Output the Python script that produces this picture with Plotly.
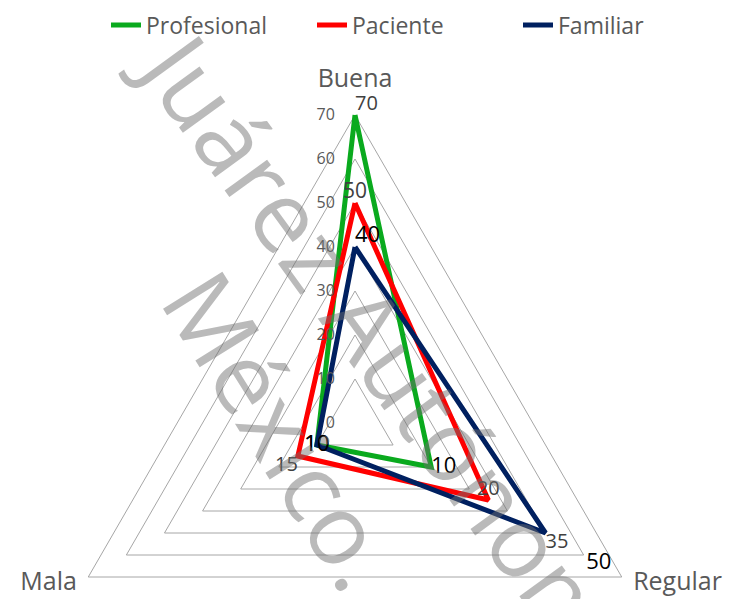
import plotly.graph_objects as go

# ---- data ----
categories = ["Buena", "Regular", "Mala"]
series_names = ["Profesional", "Paciente", "Familiar"]
profesional_values = [70, 20, 10]
paciente_values = [50, 35, 15]
familiar_values = [40, 50, 10]
profesional_labels = ["70", "10", "10"]
paciente_labels = ["50", "20", "15"]
familiar_labels = ["40", "35", "10"]
extra_label_cat = ["Regular"]
extra_label_r = [64]
extra_label_text = ["50"]
radial_ticks = [0, 10, 20, 30, 40, 50, 60, 70]
watermark_lines = ["Juárez Autónoma", "México."]

colors = ["#0AAA1E", "#FF0000", "#002060"]
GRID = "#A6A6A6"
TXT = "#595959"
FONT = "Open Sans"
RMAX = 70          # outer ring
RVIEW = 75         # radial range shown (room for category labels)

W = 735
CX, CY = 355, 423          # centre of the radar in page pixels
PX_PER_UNIT = 4.4
RC = RVIEW * PX_PER_UNIT   # radius of polar circle in px
T_MARGIN = CY - RC
H = int(round(CY + RC))


def px_to_paper(px, py):
    return px / W, (H - py) / (H - T_MARGIN)


fig = go.Figure()

series = [
    (profesional_values, profesional_labels,
     ["top right", "middle right", "middle center"],
     ["#404040", "#000000", "#000000"], [20, 22, 22]),
    (paciente_values, paciente_labels,
     ["top center", "top center", "bottom left"],
     ["#404040", "#404040", "#404040"], [21, 20, 20]),
    (familiar_values, familiar_labels,
     ["top right", "bottom right", "middle center"],
     ["#000000", "#404040", "#000000"], [22, 20, 22]),
]

for name, color, (vals, labels, pos, tcol, tsize) in zip(series_names, colors, series):
    fig.add_trace(go.Scatterpolar(
        r=vals + [vals[0]],
        theta=categories + [categories[0]],
        mode="lines+text",
        name=name,
        text=labels + [""],
        textposition=pos + [pos[0]],
        textfont=dict(family=FONT, size=tsize + [tsize[0]], color=tcol + [tcol[0]]),
        line=dict(color=color, width=5),
        hoverinfo="skip",
        cliponaxis=False,
    ))

fig.add_trace(go.Scatterpolar(
    r=extra_label_r, theta=extra_label_cat, mode="text",
    text=extra_label_text, textposition="middle center",
    textfont=dict(family=FONT, size=22, color="#000000"),
    showlegend=False, hoverinfo="skip", cliponaxis=False,
))

# category labels (placed just outside the outer ring)
cat_label_offsets = [5, 3, 3]
fig.add_trace(go.Scatterpolar(
    r=[RMAX + o for o in cat_label_offsets], theta=categories, mode="text",
    text=categories, textposition=["top center", "middle right", "middle left"],
    textfont=dict(family=FONT, size=25, color=TXT),
    showlegend=False, hoverinfo="skip", cliponaxis=False,
))

fig.update_layout(
    width=W, height=H,
    margin=dict(l=0, r=0, t=T_MARGIN, b=0, pad=0),
    paper_bgcolor="white",
    font=dict(family=FONT, color=TXT),
    showlegend=True,
    legend=dict(orientation="h", x=106 / W, xanchor="left", y=px_to_paper(0, 25)[1],
                yanchor="middle", font=dict(size=23, color=TXT),
                entrywidth=161, entrywidthmode="pixels",
                bgcolor="rgba(0,0,0,0)"),
    polar=dict(
        domain=dict(x=[(CX - RC) / W, (CX + RC) / W], y=[0, 1]),
        bgcolor="white",
        gridshape="linear",
        radialaxis=dict(
            range=[0, RVIEW], tickvals=radial_ticks, angle=90, tickangle=90,
            side="counterclockwise", showline=False,
            gridcolor=GRID, gridwidth=1.3,
            ticks="outside", ticklen=14, tickcolor="rgba(0,0,0,0)",
            tickfont=dict(size=16, color=TXT),
        ),
        angularaxis=dict(
            type="category", categoryarray=categories,
            direction="clockwise", rotation=90,
            showgrid=False, showline=False,
            ticks="", showticklabels=False,
        ),
    ),
)

# watermark
wm_centers = [(397, 363), (283, 429)]
wm_angles = [54, 58]
for txt, (wx, wy), ang in zip(watermark_lines, wm_centers, wm_angles):
    px_, py_ = px_to_paper(wx, wy)
    fig.add_annotation(
        text=txt, x=px_, y=py_, xref="paper", yref="paper",
        xanchor="center", yanchor="middle", textangle=ang, showarrow=False,
        font=dict(family=FONT, size=98, color="rgba(110,110,110,0.48)"),
    )

fig.write_html(
    "out.html",
    post_script="document.documentElement.style.overflow='hidden';document.body.style.overflow='hidden';",
)
